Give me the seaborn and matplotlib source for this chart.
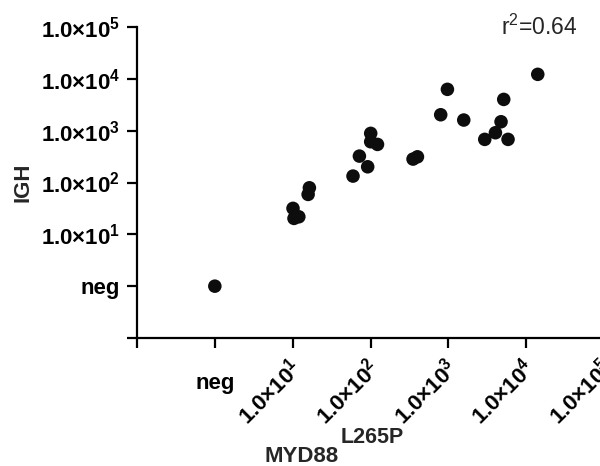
import matplotlib
matplotlib.use("Agg")
import matplotlib.pyplot as plt
import matplotlib.transforms as mtransforms
import numpy as np
import pandas as pd
import seaborn as sns

# MYD88 L265P vs IGH copy levels; negative samples are placed at 1 ("neg")
myd88 = [1.0, 10.1, 10.4, 12.0, 15.8, 16.4, 59.6, 72, 92, 100.6, 100.6, 123,
         352, 401, 798, 973, 1578, 2937, 4027, 4755, 5149, 5850, 14090]
igh = [1.0, 31.7, 20.3, 21.8, 58.9, 79.1, 133, 323, 201, 887, 611, 543,
       283, 313, 2028, 6270, 1603, 679, 912, 1486, 4009, 679, 12210]

tick_values = [0.1, 1, 10, 100, 1000, 10000, 100000]
tick_labels = ["", "neg", "1.0×10$^{1}$", "1.0×10$^{2}$", "1.0×10$^{3}$",
               "1.0×10$^{4}$", "1.0×10$^{5}$"]
r2_text = r"r$\mathregular{^2}$=0.64"

sns.set_style("ticks")
plt.rcParams["font.family"] = ["Liberation Sans", "DejaVu Sans"]
plt.rcParams["mathtext.fontset"] = "custom"
plt.rcParams["mathtext.rm"] = "Liberation Sans"
plt.rcParams["mathtext.bf"] = "Liberation Sans:bold"
plt.rcParams["mathtext.default"] = "bf"

df = pd.DataFrame({"MYD88": myd88, "IGH": igh})

fig = plt.figure(figsize=(6, 4.66), dpi=100)
ax = fig.add_axes([137 / 600, 1 - 338 / 466, (604 - 137) / 600, (338 - 27) / 466])

sns.scatterplot(data=df, x="MYD88", y="IGH", ax=ax, s=95, color="#0d0d0d",
                edgecolor="none", linewidth=0, clip_on=False)

ax.set_xscale("log")
ax.set_yscale("log")
ax.set_xlim(0.1, 1e5)
ax.set_ylim(0.1, 1e5)
ax.minorticks_off()

ax.set_xticks(tick_values)
ax.set_yticks(tick_values)
ax.set_yticklabels(tick_labels, fontsize=16, fontweight="bold")
ax.set_xticklabels(tick_labels, fontsize=16, fontweight="bold", rotation=45,
                   ha="right", va="top", rotation_mode="anchor")

ax.tick_params(axis="both", which="major", length=7, width=1.6, color="black",
               direction="out", pad=5, labelcolor="black")

# rotated power-of-ten labels sit slightly left of their ticks
for lbl in ax.get_xticklabels()[2:]:
    lbl.set_transform(lbl.get_transform() +
                      mtransforms.ScaledTranslation(-3 / 72, 0, fig.dpi_scale_trans))

# the "neg" label on the x axis sits flat, a little lower than the others
neg_lbl = ax.get_xticklabels()[1]
neg_lbl.set_rotation(0)
neg_lbl.set_ha("center")
neg_lbl.set_transform(neg_lbl.get_transform() +
                      mtransforms.ScaledTranslation(0, -13 / 72, fig.dpi_scale_trans))

sns.despine(ax=ax)
for side in ("left", "bottom"):
    ax.spines[side].set_linewidth(1.6)
    ax.spines[side].set_color("black")

ax.set_xlabel("")
ax.set_ylabel("IGH", fontsize=16, fontweight="bold")
ax.yaxis.set_label_coords((33 - 137) / 467, 0.5)

# x-axis title with a full-size raised allele tag
fig.text(265 / 600, 1 - 462 / 466, "MYD88", fontsize=16, fontweight="bold",
         ha="left", va="baseline")
fig.text(341 / 600, 1 - 443 / 466, "L265P", fontsize=15.5, fontweight="bold",
         ha="left", va="baseline")

ax.text((578 - 137) / 467, 1.0, r2_text, transform=ax.transAxes, fontsize=16.5,
        ha="right", va="center")

fig.savefig("out.png", dpi=100)
